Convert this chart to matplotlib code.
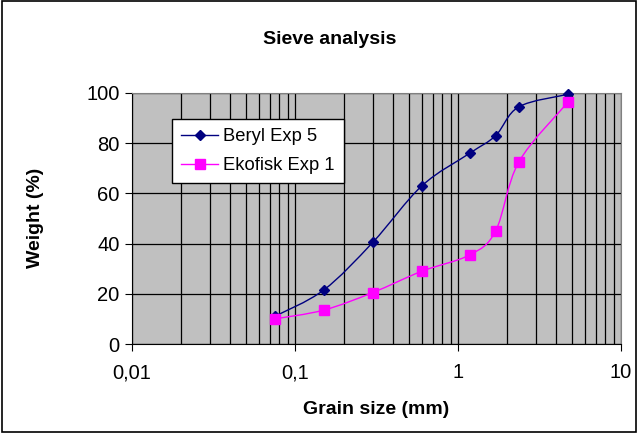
import numpy as np
import matplotlib
matplotlib.use("Agg")
import matplotlib.pyplot as plt
from matplotlib.path import Path
from matplotlib.patches import PathPatch, Rectangle
from matplotlib.lines import Line2D
from matplotlib.ticker import FixedLocator, FixedFormatter, LogLocator, NullFormatter

plt.rcParams['font.family'] = ['Liberation Sans', 'DejaVu Sans']

sieve_mm = [0.075, 0.15, 0.3, 0.6, 1.18, 1.7, 2.36, 4.75]
beryl = [11, 21.5, 40.5, 63, 76, 83, 94.5, 99.5]
ekofisk = [10, 13.5, 20.5, 29, 35.5, 45, 72.5, 96.5]
x_ticks = [0.01, 0.1, 1, 10]
x_ticklabels = ["0,01", "0,1", "1", "10"]
y_ticks = [0, 20, 40, 60, 80, 100]

fig = plt.figure(figsize=(6.38, 4.33), dpi=100)
ax = fig.add_axes([132/638, 1-344/433, (621-132)/638, (344-93)/433])
ax.set_facecolor('#C0C0C0')
ax.set_xscale('log')
ax.set_xlim(0.01, 10)
ax.set_ylim(0, 100)


def smooth_path(xs, ys):
    lx = np.log10(np.asarray(xs, float))
    y = np.asarray(ys, float)
    n = len(lx)
    verts = [(xs[0], ys[0])]
    codes = [Path.MOVETO]
    for i in range(n - 1):
        i0 = max(i - 1, 0)
        i3 = min(i + 2, n - 1)
        c1 = (lx[i] + (lx[i+1] - lx[i0]) / 6, y[i] + (y[i+1] - y[i0]) / 6)
        c2 = (lx[i+1] - (lx[i3] - lx[i]) / 6, y[i+1] - (y[i3] - y[i]) / 6)
        verts += [(10**c1[0], c1[1]), (10**c2[0], c2[1]), (xs[i+1], ys[i+1])]
        codes += [Path.CURVE4] * 3
    return Path(verts, codes)

series = [
    ("Beryl Exp 5", beryl, '#000080', 'D', 5),
    ("Ekofisk Exp 1", ekofisk, '#FF00FF', 's', 7),
]
handles = []
for name, vals, col, mk, ms in series:
    ax.add_patch(PathPatch(smooth_path(sieve_mm, vals), facecolor='none',
                           edgecolor=col, lw=1.0, zorder=3))
    ax.plot(sieve_mm, vals, ls='none', marker=mk, ms=ms, color=col,
            mec=col, zorder=4, clip_on=False)
    handles.append(Line2D([], [], color=col, lw=1.0, marker=mk, ms=ms, mec=col))

ax.xaxis.set_major_locator(FixedLocator(x_ticks))
ax.xaxis.set_major_formatter(FixedFormatter(x_ticklabels))
ax.xaxis.set_minor_locator(LogLocator(base=10, subs=np.arange(2, 10)))
ax.xaxis.set_minor_formatter(NullFormatter())
ax.set_yticks(y_ticks)
ax.grid(True, which='major', axis='both', color='black', lw=0.9)
ax.grid(True, which='minor', axis='x', color='black', lw=0.9)
ax.set_axisbelow(True)
ax.tick_params(axis='both', which='major', direction='out', length=5,
               labelsize=14.5, color='black', pad=4)
ax.tick_params(axis='x', which='minor', length=0)
ax.tick_params(axis='x', which='major', pad=9)
for s in ['top', 'right']:
    ax.spines[s].set_color('#808080')
for s in ['left', 'bottom']:
    ax.spines[s].set_color('black')

fig.text(376/638, 1-410/433, "Grain size (mm)", fontsize=14, fontweight='bold',
         ha='center', va='center')
fig.text(35/638, 1-218/433, "Weight (%)", fontsize=14, fontweight='bold',
         ha='center', va='center', rotation=90)
fig.text(330/638, 1-40/433, "Sieve analysis", fontsize=14, fontweight='bold',
         ha='center', va='center')

leg = ax.legend(handles, [s[0] for s in series], loc='upper left',
                bbox_to_anchor=((172-132)/489, (344-119)/251), fontsize=13.2,
                frameon=True, fancybox=False, edgecolor='black',
                facecolor='white', framealpha=1, handlelength=2.0,
                borderpad=0.5, labelspacing=0.65, handletextpad=0.3,
                borderaxespad=0)
leg.get_frame().set_linewidth(1.0)

fig.patches.append(Rectangle((0.003, 0.003), 0.994, 0.994, transform=fig.transFigure,
                             fill=False, edgecolor='black', lw=1.2))
fig.savefig("out.png", dpi=100)
